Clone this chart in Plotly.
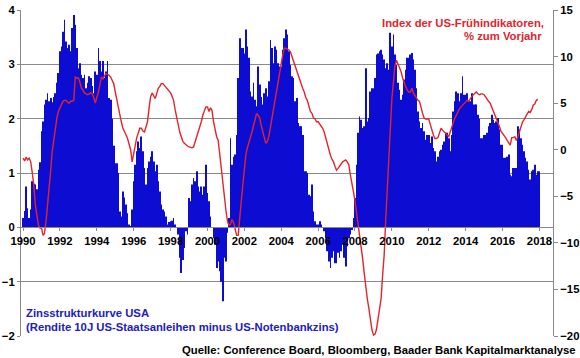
import plotly.graph_objects as go
import pandas as pd

# Zinsstrukturkurve USA (10J minus Fed Funds), monthly from Jan 1990, % points (left axis)
spread = (
    [0.17, 0.3, 0.75, 0.35, 0.17, 0.33, 0.85, 0.8, 0.79, 0.7, 1.06, 1.2] +        # 1990
    [1.77, 1.95, 2.26, 2.35, 2.47, 2.32, 2.38, 2.3, 2.4, 2.47, 2.66, 2.84] +      # 1991
    [3.24, 3.33, 3.6, 3.82, 3.42, 3.3, 3.36, 3.24, 3.67, 3.91, 3.73, 3.3] +       # 1992
    [2.93, 3.02, 2.81, 2.75, 2.81, 2.56, 2.66, 2.78, 2.75, 2.6, 2.47, 2.87] +     # 1993
    [2.81, 3.3, 3.06, 2.87, 3.06, 2.75, 2.87, 3.06, 2.38, 2.35, 2.0, 1.5] +       # 1994
    [1.18, 1.18, 1.0, 0.29, 0.2, 0.66, 0.55, 0.42, 0.26, 0.05, 0.02, 0.33] +      # 1995
    [0.85, 1.15, 1.4, 1.58, 1.46, 1.67, 1.4, 1.09, 0.79, 1.09, 1.21, 1.3] +       # 1996
    [1.4, 1.21, 1.03, 1.15, 0.85, 0.66, 0.42, 0.33, 0.29, 0.2, 0.05, 0.1] +       # 1997
    [0.11, 0.12, 0.17, 0.05, -0.01, -0.13, -0.56, -0.84, -0.6, -0.38, -0.07, -0.13] +  # 1998
    [0.54, 0.48, 0.79, 0.91, 0.85, 1.03, 0.75, 0.66, 0.75, 0.6, 0.75, 1.15] +     # 1999
    [0.63, 0.48, 0.2, -0.01, -0.2, -0.32, -0.75, -0.63, -0.81, -1.0, -1.36, -0.56] +   # 2000
    [-0.63, -0.1, 0.17, 1.64, 1.15, 1.3, 1.34, 1.7, 2.75, 3.48, 3.3, 3.3] +       # 2001
    [3.2, 3.64, 3.33, 3.12, 2.5, 2.41, 2.66, 2.35, 2.23, 2.96, 2.63, 2.4] +       # 2002
    [2.26, 2.47, 2.56, 2.41, 2.69, 3.45, 3.3, 3.02, 3.33, 3.27, 3.02, 2.96] +     # 2003
    [2.96, 3.27, 3.48, 3.64, 3.55, 3.24, 2.99, 2.78, 2.75, 2.32, 2.38, 1.92] +    # 2004
    [1.86, 1.86, 1.7, 1.03, 1.03, 1.0, 0.6, 0.57, 0.79, 0.29, 0.11, 0.05] +       # 2005
    [0.05, 0.11, 0.05, -0.01, -0.07, -0.2, -0.44, -0.63, -0.75, -0.56, -0.44, -0.66] +  # 2006
    [-0.66, -0.47, -0.56, -0.44, -0.32, -0.56, -0.72, -0.35, -0.2, -0.13, -0.05, 0.17] +  # 2007
    [0.54, 1.15, 1.74, 2.04, 1.98, 1.83, 1.86, 2.93, 1.95, 2.01, 2.5, 2.56] +     # 2008
    [2.56, 2.75, 3.18, 3.2, 3.24, 3.27, 3.18, 3.09, 2.93, 3.02, 2.9, 3.58] +      # 2009
    [3.33, 3.55, 3.18, 2.99, 2.66, 2.53, 2.35, 2.44, 2.72, 2.9, 3.12, 3.12] +     # 2010
    [3.18, 3.21, 3.09, 2.9, 2.56, 2.13, 1.95, 1.83, 1.92, 1.77, 1.61, 1.7] +      # 2011
    [1.7, 1.55, 1.67, 1.46, 1.4, 1.21, 1.3, 1.4, 1.43, 1.52, 1.58, 1.74] +        # 2012
    [1.74, 1.64, 1.4, 1.7, 2.13, 2.32, 2.5, 2.47, 2.32, 2.47, 2.78, 2.44] +       # 2013
    [2.44, 2.47, 2.32, 2.32, 2.47, 2.26, 2.26, 2.26, 2.07, 2.0, 1.64, 1.64] +     # 2014
    [1.7, 1.7, 1.74, 1.86, 1.92, 2.07, 1.98, 1.92, 1.95, 2.01, 1.8, 1.52] +       # 2015
    [1.52, 1.28, 1.28, 1.3, 1.34, 0.97, 0.94, 1.09, 1.09, 1.09, 1.86, 1.8] +      # 2016
    [1.64, 1.52, 1.4, 1.28, 1.21, 1.06, 0.88, 1.03, 1.06, 1.15, 0.97, 1.03] +     # 2017
    [1.03]                                                                        # 2018
)

# Index der US-Frühindikatoren, % zum Vorjahr, monthly from Jan 1990 (right axis)
lei_yoy = (
    [-0.9, -1.2, -0.8, -1.1, -0.9, -1.3, -2.4, -3.8, -5.9, -7.3, -8.1, -8.4] +    # 1990
    [-8.4, -9.2, -9.0, -7.7, -6.0, -4.5, -2.3, -0.2, 1.2, 2.6, 3.4, 4.1] +        # 1991
    [4.5, 5.0, 5.2, 5.3, 5.3, 5.1, 5.0, 5.2, 5.2, 5.3, 7.8, 7.7] +                # 1992
    [7.7, 7.2, 6.6, 6.4, 6.1, 6.0, 5.9, 6.0, 6.1, 6.0, 5.6, 5.0] +                # 1993
    [5.5, 6.2, 6.9, 7.8, 7.6, 8.0, 8.2, 8.1, 8.0, 7.8, 7.5, 7.1] +                # 1994
    [6.2, 5.3, 4.5, 3.7, 3.0, 2.3, 2.0, 1.6, 1.2, 0.5, 0.0, -1.3] +               # 1995
    [-0.3, 0.5, 1.3, 1.8, 2.3, 2.3, 2.0, 1.9, 2.4, 3.0, 4.5, 5.7] +               # 1996
    [6.1, 5.8, 5.5, 6.0, 6.6, 6.8, 7.1, 7.1, 6.9, 6.8, 6.6, 6.4] +                # 1997
    [6.1, 5.7, 5.3, 4.3, 3.4, 2.6, 1.9, 1.4, 0.9, 0.7, 0.5, 0.4] +                # 1998
    [0.3, 0.2, 0.2, 0.3, 0.8, 1.4, 1.8, 2.3, 3.0, 3.7, 4.2, 4.6] +                # 1999
    [4.6, 4.1, 4.5, 4.2, 3.0, 2.2, 1.4, 1.0, -0.6, -2.4, -4.0, -5.6] +            # 2000
    [-6.5, -7.7, -8.1, -8.0, -7.5, -7.8, -8.5, -9.2, -9.2, -7.0, -5.5, -3.8] +    # 2001
    [-2.0, -0.5, 0.2, 0.7, 1.2, 1.9, 2.6, 3.3, 3.9, 3.7, 3.4, 2.6] +              # 2002
    [1.9, 1.3, 0.7, 0.9, 1.4, 2.4, 3.4, 4.5, 5.5, 6.5, 7.5, 8.4] +                # 2003
    [9.3, 10.2, 10.9, 10.9, 10.8, 10.7, 10.5, 10.0, 9.5, 9.0, 8.6, 8.0] +         # 2004
    [7.4, 6.9, 6.6, 6.2, 5.6, 5.3, 4.8, 4.1, 3.9, 3.4, 3.3, 3.0] +                # 2005
    [3.0, 2.8, 2.6, 2.3, 1.9, 1.2, 0.5, -0.1, -0.6, -1.0, -1.3, -1.8] +           # 2006
    [-2.2, -2.0, -1.8, -1.5, -1.3, -1.2, -1.1, -1.3, -1.6, -2.7, -3.5, -4.5] +    # 2007
    [-5.5, -6.7, -8.0, -9.2, -10.4, -11.7, -13.2, -14.9, -16.0, -17.0, -18.2, -19.3] +  # 2008
    [-19.9, -19.8, -19.3, -18.3, -17.2, -16.0, -13.5, -11.3, -7.5, -4.5, -0.5, 3.0] +   # 2009
    [5.5, 7.3, 9.0, 9.6, 9.2, 8.8, 8.4, 7.7, 7.1, 6.8, 6.4, 6.2] +                # 2010
    [6.2, 6.6, 6.1, 5.8, 5.5, 5.3, 5.2, 4.4, 3.9, 3.4, 3.3, 3.3] +                # 2011
    [3.3, 2.7, 2.1, 1.6, 1.2, 1.2, 1.3, 1.8, 2.3, 2.1, 1.9, 1.7] +                # 2012
    [1.6, 1.4, 1.9, 2.5, 3.0, 3.4, 3.7, 4.1, 4.4, 4.6, 4.8, 5.0] +                # 2013
    [5.2, 5.3, 5.2, 5.5, 5.7, 5.9, 6.1, 6.2, 6.0, 5.9, 6.0, 6.0] +                # 2014
    [5.9, 5.7, 5.5, 5.2, 5.0, 4.6, 4.1, 3.8, 3.4, 3.0, 2.5, 2.0] +                # 2015
    [1.8, 1.6, 1.3, 1.0, 0.7, 0.5, 1.3, 1.3, 1.4, 1.0, 1.4, 1.9] +                # 2016
    [2.5, 3.0, 3.2, 3.5, 3.8, 4.1, 4.0, 4.3, 4.8, 4.9, 5.3, 5.4]                  # 2017
)

tick_years = list(range(1990, 2019, 2))
tick_labels = [str(y) for y in tick_years]

spread_dates = pd.date_range("1990-01-01", periods=len(spread), freq="MS")
lei_dates = pd.date_range("1990-01-01", periods=len(lei_yoy), freq="MS")

FONT = "Liberation Sans, Arial, sans-serif"
FS = 11.3
GRID = "#8a8a8a"

fig = go.Figure()
fig.add_trace(go.Bar(
    x=spread_dates, y=spread, yaxis="y",
    marker=dict(color="#0C0CD2", line=dict(width=0)),
    name="Zinsstrukturkurve USA",
))
fig.add_trace(go.Scatter(
    x=lei_dates, y=lei_yoy, yaxis="y2", mode="lines",
    line=dict(color="#E3242B", width=1.4),
    name="Index der US-Frühindikatoren",
))

fig.update_layout(
    width=580, height=358,
    margin=dict(l=21, r=27, t=10, b=22, autoexpand=False),
    paper_bgcolor="white", plot_bgcolor="white",
    showlegend=False, bargap=0.45,
    font=dict(family=FONT, size=FS, color="black"),
    xaxis=dict(
        type="date", automargin=False,
        range=["1989-11-21", "2018-09-27"],
        tickvals=[f"{y}-01-01" for y in tick_years],
        ticktext=tick_labels,
        anchor="free", position=1/3,
        showgrid=False, showline=True, linecolor=GRID, linewidth=1,
        ticks="outside", ticklen=3, tickcolor=GRID,
        tickfont=dict(family=FONT, size=FS, color="black", weight="bold"),
        zeroline=False,
    ),
    yaxis=dict(
        range=[-2, 4], dtick=1, tick0=0, automargin=False,
        showgrid=True, gridcolor=GRID, gridwidth=1,
        zeroline=True, zerolinecolor=GRID, zerolinewidth=1,
        showline=True, linecolor=GRID, linewidth=1,
        ticks="outside", ticklen=3, tickcolor=GRID,
        tickfont=dict(family=FONT, size=FS, color="black", weight="bold"),
    ),
    yaxis2=dict(
        range=[-20, 15], dtick=5, tick0=0, automargin=False,
        overlaying="y", side="right", anchor="x",
        showgrid=False, zeroline=False,
        showline=True, linecolor=GRID, linewidth=1,
        ticks="outside", ticklen=4, tickcolor=GRID,
        tickfont=dict(family=FONT, size=FS, color="black", weight="bold"),
    ),
)

def px_x(x):
    return (x - 21) / 532.0

def px_y(y):
    return (336 - y) / 326.0

annos = [
    ("Index der US-Frühindikatoren,", 546, 22.5, "right", "#E3242B"),
    ("% zum Vorjahr", 544, 35.5, "right", "#E3242B"),
    ("Zinsstrukturkurve USA", 24, 313, "left", "#2020C0"),
    ("(Rendite 10J US-Staatsanleihen minus US-Notenbankzins)", 24, 326.5, "left", "#2020C0"),
    ("Quelle: Conference Board, Bloomberg, Baader Bank Kapitalmarktanalyse", 578, 350, "right", "black"),
]
for text, xp, yp, anchor, color in annos:
    fig.add_annotation(
        text=text, x=px_x(xp), y=px_y(yp), xref="paper", yref="paper",
        xanchor=anchor, yanchor="middle", showarrow=False,
        font=dict(family=FONT, size=FS, color=color, weight="bold"),
    )

fig.write_html(
    "out.html",
    config={"displayModeBar": False},
    post_script="document.body.style.margin='0';document.body.style.overflow='hidden';",
)
